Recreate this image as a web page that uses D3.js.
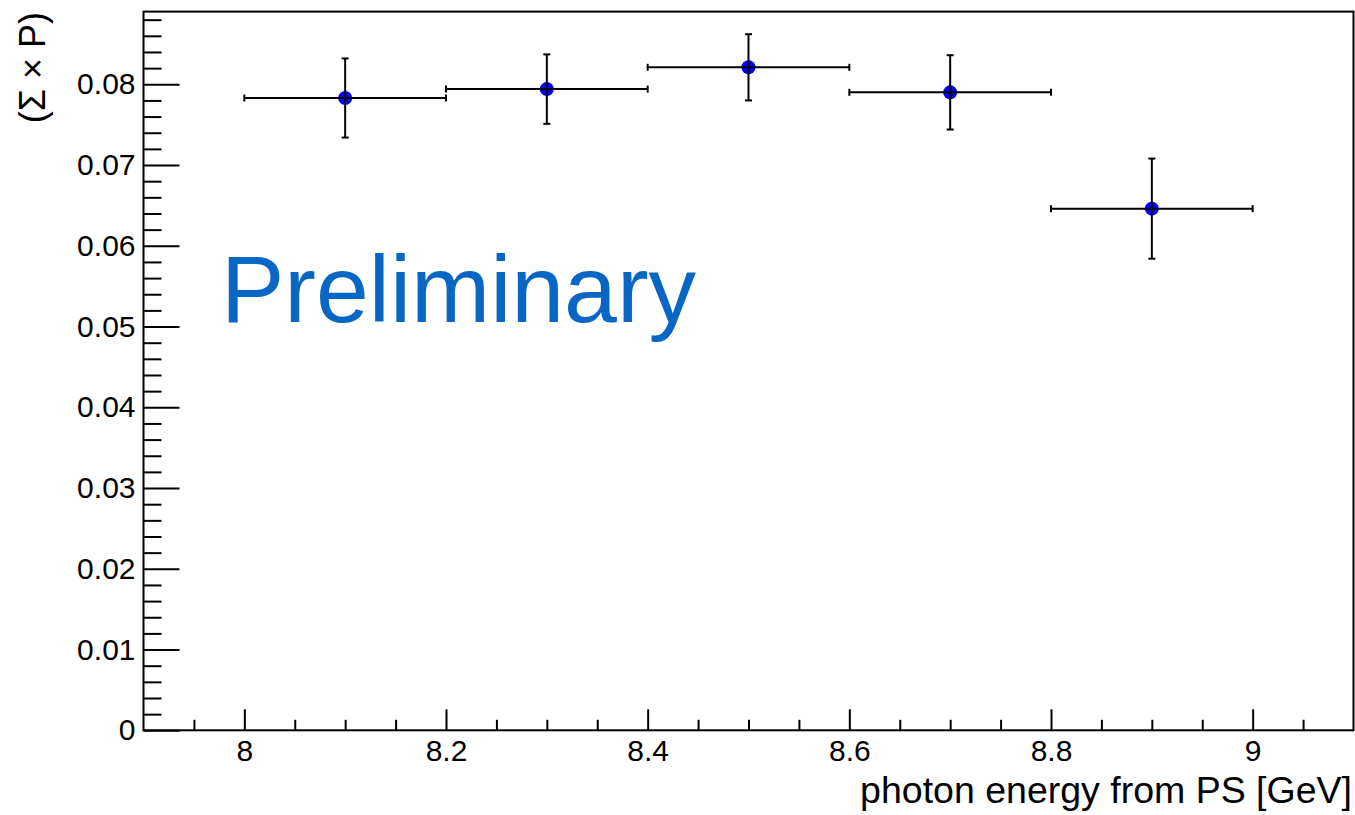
<!DOCTYPE html>
<html>
<head>
<meta charset="utf-8">
<script src="https://cdn.jsdelivr.net/npm/d3@7"></script>
<style>
  body { margin: 0; background: #fff; }
  text { font-family: "Liberation Sans", Arial, Helvetica, sans-serif; }
</style>
</head>
<body>
<script>
// bin centres and half widths (GeV)
var energy = [8.1, 8.3, 8.5, 8.7, 8.9];
var energyErr = [0.1, 0.1, 0.1, 0.1, 0.1];
// measured value and its error
var value = [0.0783, 0.0794, 0.0821, 0.0790, 0.0646];
var valueErr = [0.0049, 0.0043, 0.0041, 0.0046, 0.0062];

var xMajor = [8, 8.2, 8.4, 8.6, 8.8, 9];
var yMajor = [0, 0.01, 0.02, 0.03, 0.04, 0.05, 0.06, 0.07, 0.08];

var w = 1355, h = 815;
var padL = 143.5, padR = 1353.5, padT = 11.6, padB = 730.3;

var data = energy.map(function(e, i) {
  return { x: e, ex: energyErr[i], y: value[i], ey: valueErr[i] };
});

var xScale = d3.scaleLinear().domain([7.9, 9.1]).range([padL, padR]);
var yScale = d3.scaleLinear().domain([0, 0.089]).range([padB, padT]);

var svg = d3.select("body").append("svg")
  .attr("width", w)
  .attr("height", h);

// minor ticks
var xMinor = d3.range(7.95, 9.1, 0.05).filter(function(v) {
  return xMajor.every(function(m) { return Math.abs(m - v) > 1e-6; });
});
var yMinor = d3.range(0.002, 0.0889, 0.002).filter(function(v) {
  return yMajor.every(function(m) { return Math.abs(m - v) > 1e-7; });
});

var xAxis = d3.axisBottom(xScale)
  .tickValues(xMajor)
  .tickSize(-21)
  .tickPadding(9.5)
  .tickFormat(function(d) { return +d.toFixed(1); });

var xAxisMinor = d3.axisBottom(xScale)
  .tickValues(xMinor)
  .tickSize(-10.5)
  .tickFormat("");

var yAxis = d3.axisLeft(yScale)
  .tickValues(yMajor)
  .tickSize(-36)
  .tickPadding(8)
  .tickFormat(function(d) { return d === 0 ? "0" : d.toFixed(2); });

var yAxisMinor = d3.axisLeft(yScale)
  .tickValues(yMinor)
  .tickSize(-18)
  .tickFormat("");

[ [xAxisMinor, "x"], [xAxis, "x"], [yAxisMinor, "y"], [yAxis, "y"] ].forEach(function(a) {
  var g = svg.append("g")
    .attr("transform", a[1] === "x" ? "translate(0," + padB + ")" : "translate(" + padL + ",0)")
    .call(a[0]);
  g.select(".domain").remove();
  g.selectAll("line").attr("stroke", "#000").attr("stroke-width", 2);
  g.selectAll("text").attr("fill", "#000").style("font-size", "30px");
});

// frame
svg.append("rect")
  .attr("x", padL)
  .attr("y", padT)
  .attr("width", padR - padL)
  .attr("height", padB - padT)
  .attr("fill", "none")
  .attr("stroke", "#000")
  .attr("stroke-width", 2);

// Preliminary
svg.append("text")
  .attr("x", 221)
  .attr("y", 322)
  .attr("fill", "#0866c4")
  .style("font-size", "95px")
  .text("Preliminary");

// error bars
var pts = svg.append("g");
var cap = 3.5;

pts.selectAll(".ex")
  .data(data)
  .enter()
  .append("line")
  .attr("x1", function(d) { return xScale(d.x - d.ex); })
  .attr("x2", function(d) { return xScale(d.x + d.ex); })
  .attr("y1", function(d) { return yScale(d.y); })
  .attr("y2", function(d) { return yScale(d.y); });

pts.selectAll(".ey")
  .data(data)
  .enter()
  .append("line")
  .attr("x1", function(d) { return xScale(d.x); })
  .attr("x2", function(d) { return xScale(d.x); })
  .attr("y1", function(d) { return yScale(d.y - d.ey); })
  .attr("y2", function(d) { return yScale(d.y + d.ey); });

// end caps
data.forEach(function(d) {
  [d.x - d.ex, d.x + d.ex].forEach(function(xv) {
    pts.append("line")
      .attr("x1", xScale(xv)).attr("x2", xScale(xv))
      .attr("y1", yScale(d.y) - cap).attr("y2", yScale(d.y) + cap);
  });
  [d.y - d.ey, d.y + d.ey].forEach(function(yv) {
    pts.append("line")
      .attr("x1", xScale(d.x) - cap).attr("x2", xScale(d.x) + cap)
      .attr("y1", yScale(yv)).attr("y2", yScale(yv));
  });
});

pts.selectAll("line").attr("stroke", "#000").attr("stroke-width", 2);

pts.selectAll("circle")
  .data(data)
  .enter()
  .append("circle")
  .attr("cx", function(d) { return xScale(d.x); })
  .attr("cy", function(d) { return yScale(d.y); })
  .attr("r", 7)
  .attr("fill", "#0000ff");

// ROOT draws the error bars over the marker
data.forEach(function(d) {
  pts.append("line")
    .attr("x1", xScale(d.x) - 7).attr("x2", xScale(d.x) + 7)
    .attr("y1", yScale(d.y)).attr("y2", yScale(d.y))
    .attr("stroke", "#000").attr("stroke-width", 2);
  pts.append("line")
    .attr("x1", xScale(d.x)).attr("x2", xScale(d.x))
    .attr("y1", yScale(d.y) - 7).attr("y2", yScale(d.y) + 7)
    .attr("stroke", "#000").attr("stroke-width", 2);
});

// axis titles
svg.append("text")
  .attr("x", 1352)
  .attr("y", 803)
  .attr("text-anchor", "end")
  .attr("fill", "#000")
  .style("font-size", "37.5px")
  .text("photon energy from PS [GeV]");

svg.append("text")
  .attr("transform", "translate(45,12) rotate(-90)")
  .attr("text-anchor", "end")
  .attr("fill", "#000")
  .style("font-size", "36px")
  .text("(\u03a3 \u00d7 P)");
</script>
</body>
</html>
